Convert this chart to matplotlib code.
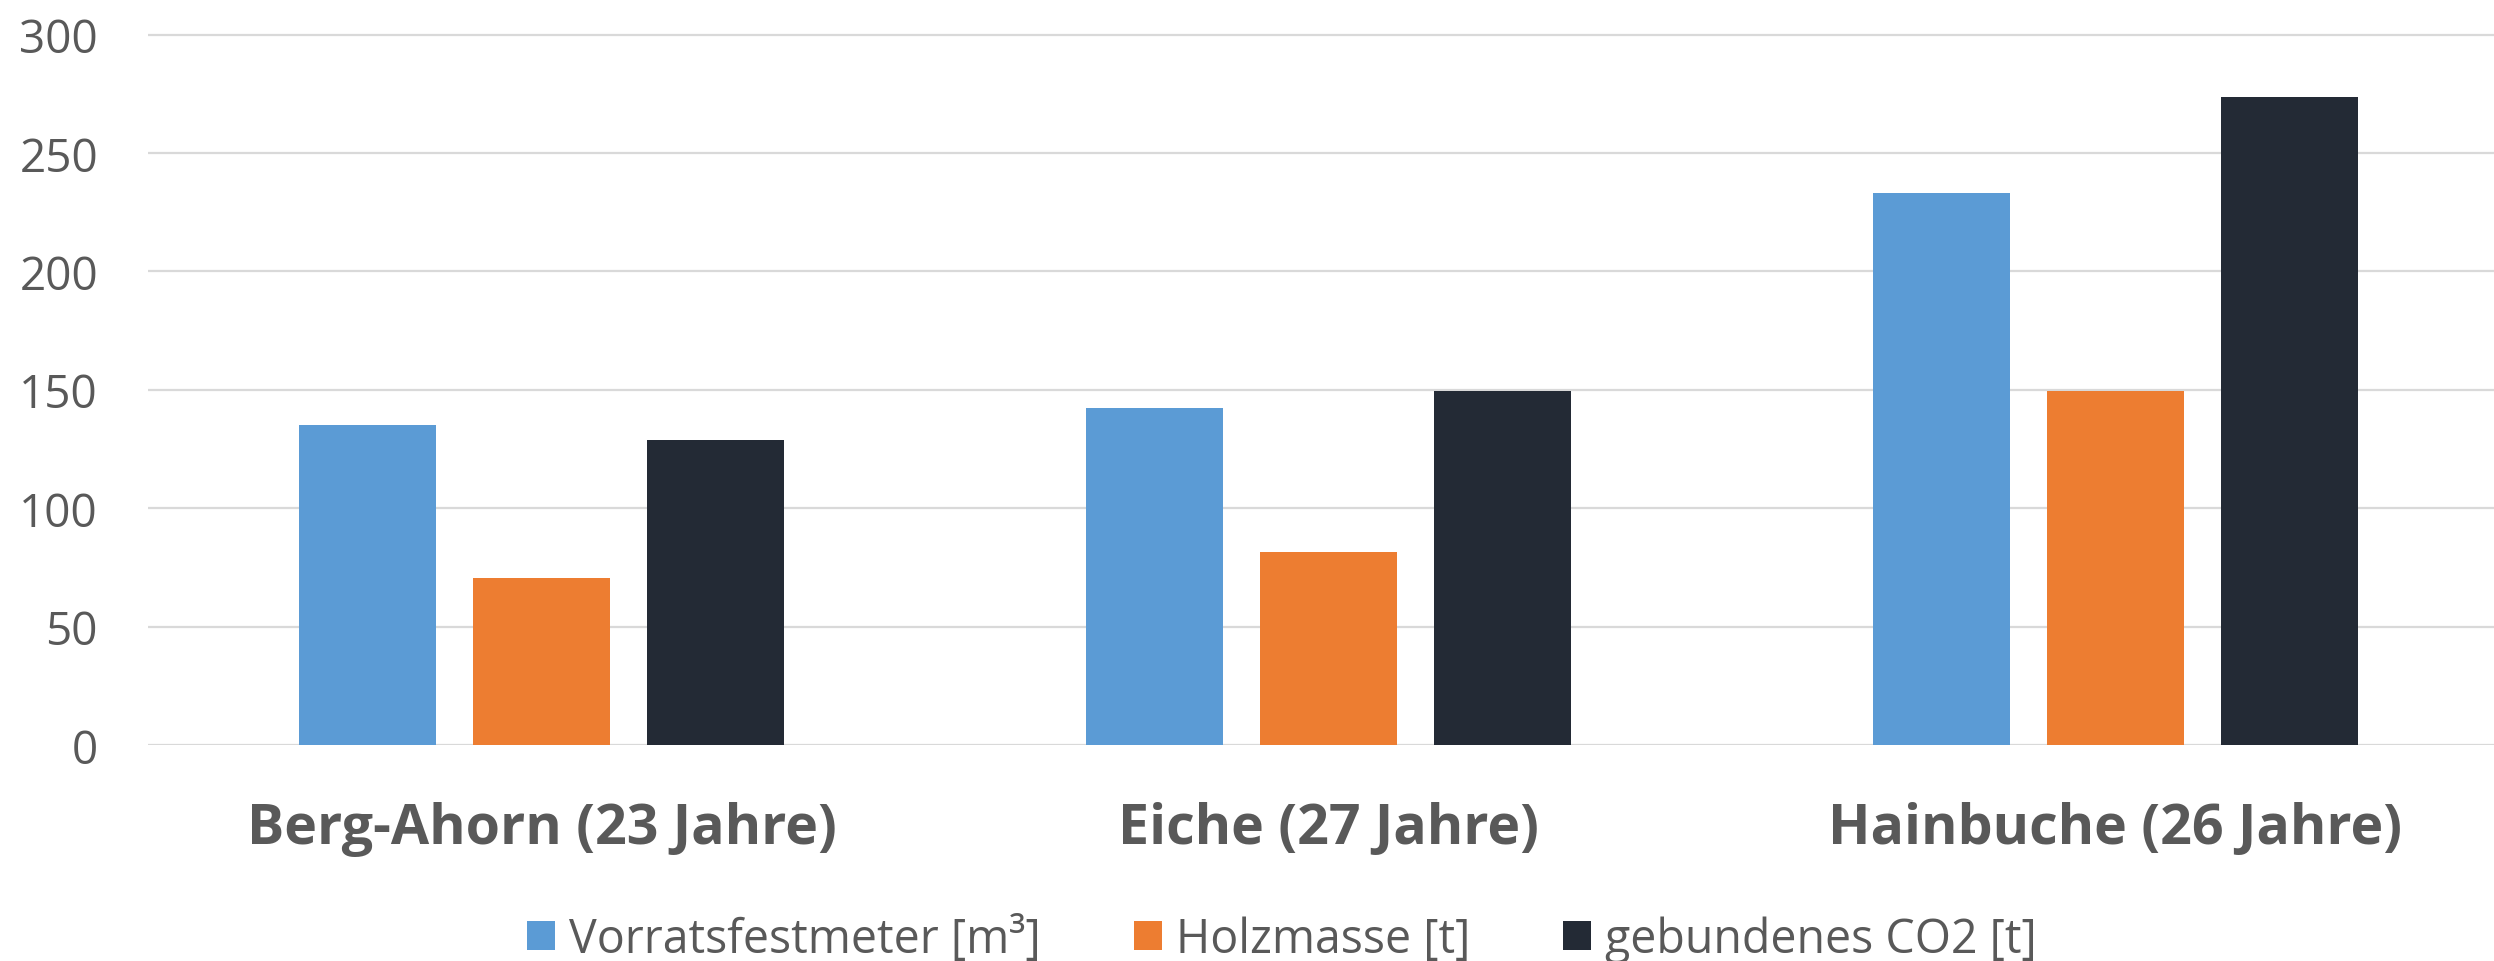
import matplotlib.pyplot as plt
import numpy as np

plt.rcParams['font.family'] = ['Open Sans', 'DejaVu Sans']

categories = ['Berg-Ahorn (23 Jahre)', 'Eiche (27 Jahre)', 'Hainbuche (26 Jahre)']
series_names = ['Vorratsfestmeter [m³]', 'Holzmasse [t]', 'gebundenes CO2 [t]']
vorrat = [135, 142.5, 233]
holz = [70.5, 81.5, 149.5]
co2 = [129, 149.5, 273.5]
colors = ['#5B9BD5', '#ED7D31', '#232A35']
yticks = [0, 50, 100, 150, 200, 250, 300]

fig = plt.figure(figsize=(24.94, 9.62), dpi=100)
ax = fig.add_axes([148 / 2494, 0.2245, 1 - 148 / 2494, 0.763])

x = np.arange(len(categories))
width = 0.174
step = 0.221
for i, (vals, name) in enumerate(zip([vorrat, holz, co2], series_names)):
    ax.bar(x + (i - 1) * step, vals, width, color=colors[i], label=name, zorder=3)

ax.set_xlim(-0.5, -0.5 + (2494 - 148) / 787)
ax.set_ylim(0, 310)
ax.set_yticks(yticks)
ax.set_yticklabels([str(v) for v in yticks], fontsize=33, color='#595959')
ax.set_xticks(x)
ax.set_xticklabels(categories, fontsize=40, fontweight='bold', color='#595959')
ax.tick_params(axis='both', length=0)
ax.tick_params(axis='y', pad=36)
ax.tick_params(axis='x', pad=40)
ax.grid(axis='y', color='#D9D9D9', linewidth=1.6, zorder=0)
for s in ax.spines.values():
    s.set_visible(False)

fig.legend(loc='center', bbox_to_anchor=(1282 / 2494, 1 - 940 / 962), ncol=3,
           frameon=False, fontsize=33.5, handlelength=0.6, handleheight=0.6,
           handletextpad=0.3, columnspacing=2.0, labelcolor='#595959')

fig.savefig('out.png', dpi=100)
